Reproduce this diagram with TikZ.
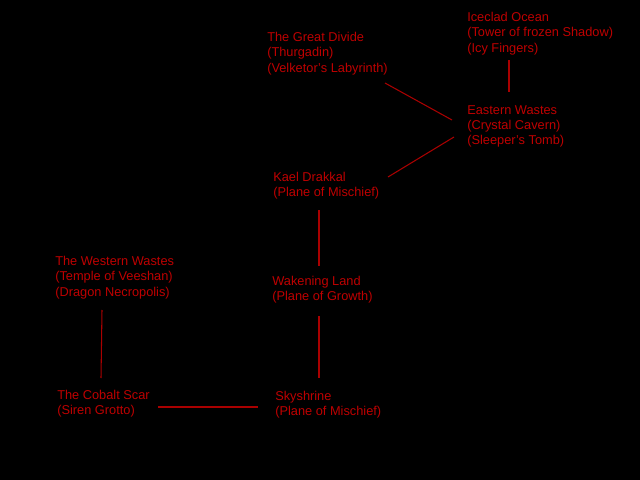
\documentclass[tikz,border=0pt]{standalone}
\usepackage{fontspec}
\setmainfont{Liberation Sans}
\definecolor{zonered}{RGB}{190,0,0}
\definecolor{linkred}{RGB}{170,0,0}

\begin{document}
\begin{tikzpicture}[x=0.025cm,y=-0.025cm,
  zone/.style={anchor=north west,inner sep=0pt,align=left,text=zonered,
    font=\fontsize{9.1}{10.9}\selectfont},
  link/.style={draw=linkred,line width=0.75pt}]

\fill[black] (0,0) rectangle (640,480);
\useasboundingbox (0,0) rectangle (640,480);

\node[zone](gd) at (267,32){The Great Divide\\(Thurgadin)\\(Velketor's Labyrinth)};
\node[zone](ice) at (467,12){Iceclad Ocean\\(Tower of frozen Shadow)\\(Icy Fingers)};
\node[zone](ew) at (467,105){Eastern Wastes\\(Crystal Cavern)\\(Sleeper's Tomb)};
\node[zone](kael) at (273,172){Kael Drakkal\\(Plane of Mischief)};
\node[zone](wake) at (272,276){Wakening Land\\(Plane of Growth)};
\node[zone](west) at (55,256){The Western Wastes\\(Temple of Veeshan)\\(Dragon Necropolis)};
\node[zone](cobalt) at (57,390){The Cobalt Scar\\(Siren Grotto)};
\node[zone](sky) at (275,391){Skyshrine\\(Plane of Mischief)};

\path[link]([shift={(118,51)}]gd.north west) edge ([shift={(-15,15)}]ew.north west)
	([shift={(115,5)}]kael.north west) edge ([shift={(-13,32)}]ew.north west)
	([shift={(42,48)}]ice.north west) edge ([shift={(42,-13)}]ew.north west)
	([shift={(46,38)}]kael.north west) edge ([shift={(47,-10)}]wake.north west)
	([shift={(47,40)}]wake.north west) edge ([shift={(44,-13)}]sky.north west)
	([shift={(47,54)}]west.north west) edge ([shift={(44,-12)}]cobalt.north west)
	([shift={(101,17)}]cobalt.north west) edge ([shift={(-17,16)}]sky.north west);

\end{tikzpicture}
\end{document}
